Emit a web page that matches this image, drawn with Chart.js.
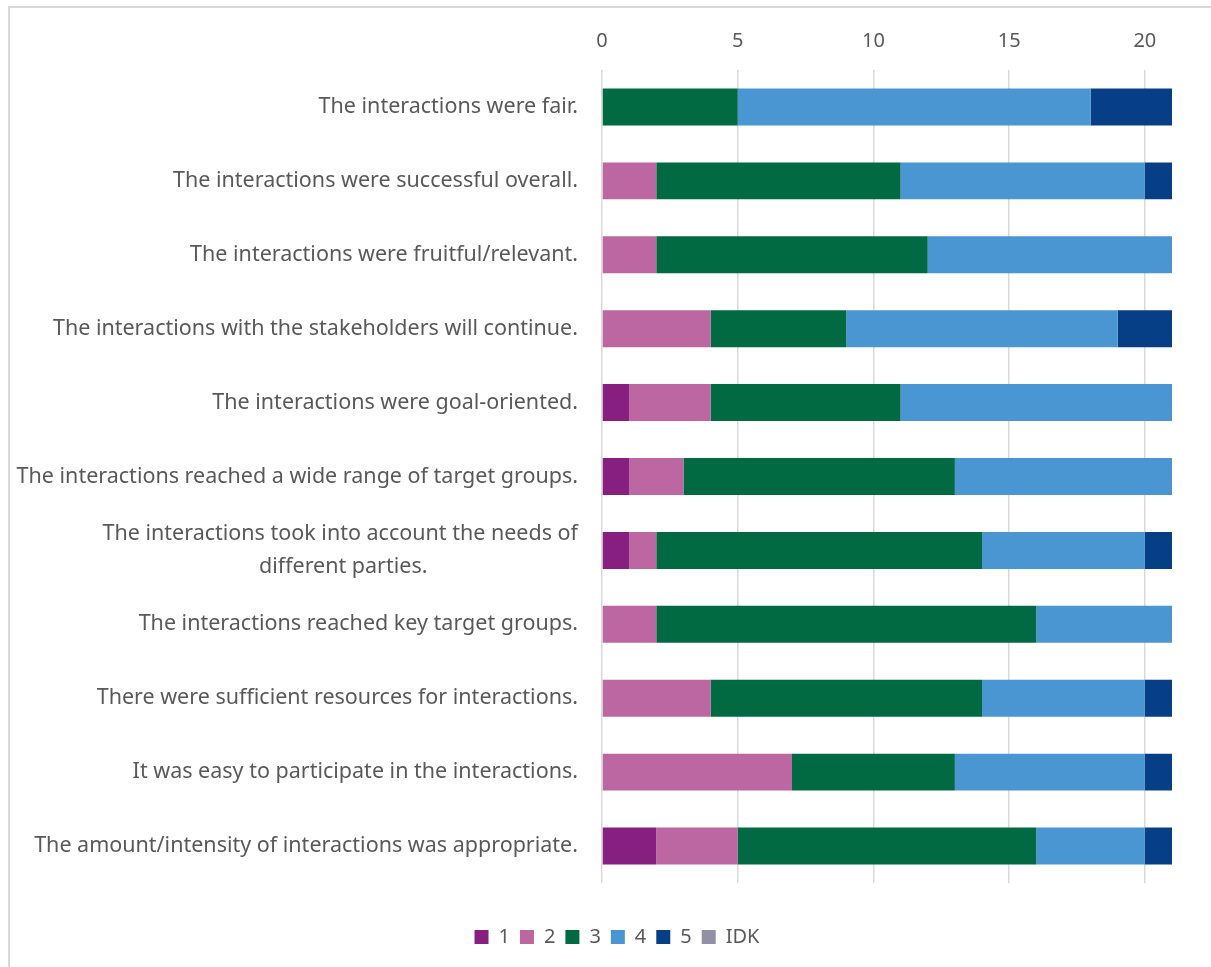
<!DOCTYPE html>
<html>
<head>
<meta charset="utf-8">
<script src="https://cdn.jsdelivr.net/npm/chart.js@4"></script>
<style>
  html, body { margin: 0; padding: 0; background: #fff; overflow: hidden; }
  .frame {
    position: absolute;
    left: 8px;
    top: 6px;
    width: 1260px;
    height: 1000px;
    border: 2px solid #d9d9d9;
  }
  .wrap { position: absolute; left: 0; top: 0; width: 1211px; height: 967px; }
</style>
</head>
<body>
<div class="frame"></div>
<div class="wrap"><canvas id="myChart"></canvas></div>
<script>
const statements = [
  "The interactions were fair.",
  "The interactions were successful overall.",
  "The interactions were fruitful/relevant.",
  "The interactions with the stakeholders will continue.",
  "The interactions were goal-oriented.",
  "The interactions reached a wide range of target groups.",
  ["The interactions took into account the needs of", "different parties."],
  "The interactions reached key target groups.",
  "There were sufficient resources for interactions.",
  "It was easy to participate in the interactions.",
  "The amount/intensity of interactions was appropriate.",
];

// number of answers per rating, one entry per statement
const rating1 = [0, 0, 0, 0, 1, 1, 1, 0, 0, 0, 2];
const rating2 = [0, 2, 2, 4, 3, 2, 1, 2, 4, 7, 3];
const rating3 = [5, 9, 10, 5, 7, 10, 12, 14, 10, 6, 11];
const rating4 = [13, 9, 9, 10, 10, 8, 6, 5, 6, 7, 4];
const rating5 = [3, 1, 0, 2, 0, 0, 1, 0, 1, 1, 1];
const ratingIdk = [0, 0, 0, 0, 0, 0, 0, 0, 0, 0, 0];

const ratingNames = ["1", "2", "3", "4", "5", "IDK"];
const ratingColors = ["#861f7f", "#bc67a1", "#016a43", "#4a96d2", "#073f86", "#9190a5"];
const axisTicks = [0, 5, 10, 15, 20];

const FONT = "'Source Sans Pro', 'Noto Sans', sans-serif";
const LABEL_SIZE = 21.5;

// centre the short lines of a wrapped label under its longest line
const measureCtx = document.createElement("canvas").getContext("2d");
measureCtx.font = LABEL_SIZE + "px " + FONT;
function centreLines(label) {
  if (!Array.isArray(label)) return label;
  const widths = label.map((l) => measureCtx.measureText(l).width);
  const widest = Math.max(...widths);
  const pad = measureCtx.measureText("\u2002").width;
  return label.map((l, i) => l + "\u2002".repeat(Math.round((widest - widths[i]) / 2 / pad)));
}

// move the legend a little right and down, away from the plot
const legendOffset = {
  id: "legendOffset",
  afterLayout(chart) {
    const lg = chart.legend;
    lg.left += 31;
    lg.right += 31;
    lg.top += 34;
    lg.bottom += 34;
  },
};

const seriesData = [rating1, rating2, rating3, rating4, rating5, ratingIdk];

var ctx = document.getElementById("myChart").getContext("2d");
var myChart = new Chart(ctx, {
  type: "bar",
  data: {
    labels: statements.map(centreLines),
    datasets: ratingNames.map((name, i) => ({
      label: name,
      data: seriesData[i],
      backgroundColor: ratingColors[i],
      borderWidth: 0,
      categoryPercentage: 1,
      barPercentage: 0.5,
    })),
  },
  options: {
    indexAxis: "y",
    responsive: true,
    maintainAspectRatio: false,
    animation: false,
    layout: {
      padding: { left: 0, right: 39, top: 0, bottom: 44 },
    },
    scales: {
      x: {
        position: "top",
        stacked: true,
        min: 0,
        max: 21,
        afterBuildTicks: (scale) => {
          scale.ticks = axisTicks.map((v) => ({ value: v }));
        },
        afterFit: (scale) => {
          scale.height = 70;
        },
        border: { display: false },
        grid: {
          color: "#d9d9d9",
          lineWidth: 1.5,
          drawTicks: false,
        },
        ticks: {
          color: "#595959",
          padding: 17,
          font: { family: FONT, size: 20 },
        },
      },
      y: {
        stacked: true,
        afterFit: (scale) => {
          scale.width = 602;
        },
        border: { display: false },
        grid: { display: false },
        ticks: {
          color: "#595959",
          padding: 16,
          font: { family: FONT, size: LABEL_SIZE, lineHeight: 1.5 },
        },
      },
    },
    plugins: {
      legend: {
        position: "bottom",
        labels: {
          color: "#595959",
          boxWidth: 14,
          boxHeight: 14,
          padding: 10,
          font: { family: FONT, size: 20 },
        },
      },
      tooltip: { enabled: false },
    },
  },
  plugins: [legendOffset],
});
</script>
</body>
</html>
